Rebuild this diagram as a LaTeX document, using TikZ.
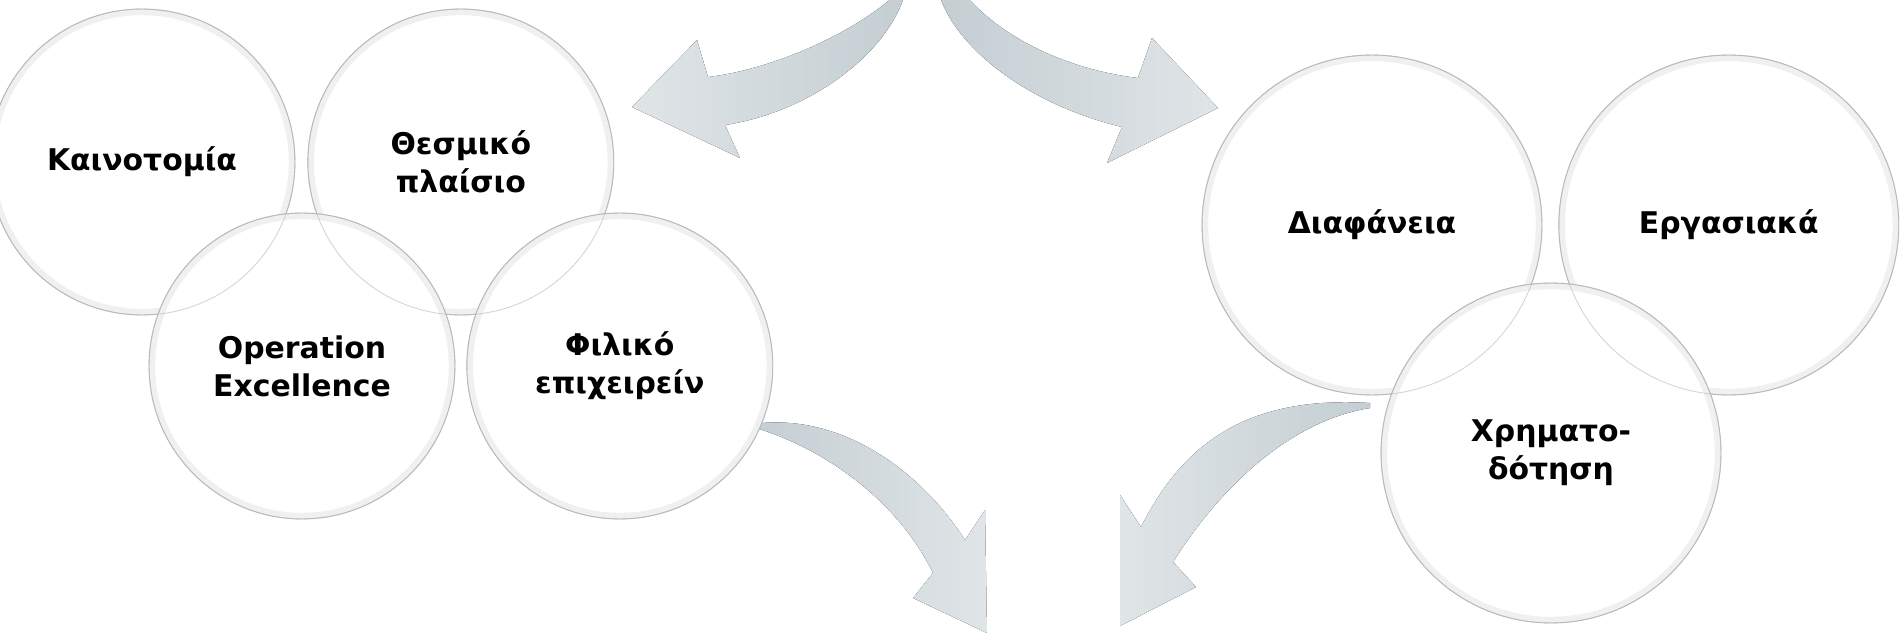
\documentclass[tikz,border=0pt]{standalone}
\usepackage{fontspec}
\setmainfont{DejaVu Sans}
\usepackage{tikz}
\usetikzlibrary{positioning}

\definecolor{swooshdark}{RGB}{196,206,211}
\definecolor{swooshlight}{RGB}{224,229,231}
\definecolor{rimgray}{RGB}{185,185,185}

\begin{document}
\begin{tikzpicture}[x=0.02cm, y=-0.02cm,
        bubble/.style={circle, draw=rimgray, line width=0.5pt, fill=white, minimum size=#1, inner sep=0pt, align=center, font=\fontsize{17}{21.6}\selectfont\bfseries,
            path picture={\draw[black!6, line width=7pt] (path picture bounding box.center) circle[radius=#1/2];}},
        leftbub/.style={bubble=6.12cm},
        rightbub/.style={bubble=6.8cm},
        swooshL/.style={left color=swooshlight, right color=swooshdark},
        swooshR/.style={left color=swooshdark, right color=swooshlight}]

    \useasboundingbox (0,0) rectangle (1901,635);
    \clip (0,0) rectangle (1901,635);

    % curved arrows, behind the bubbles
    \fill[swooshL] (632,107) -- (697,40) -- (708,77) .. controls (770,70) and (850,35) .. (893,-3) -- (904,-3) .. controls (885,55) and (810,112) .. (725,125) -- (740,158) -- cycle;
    \fill[swooshR] (1218,108) -- (1152,38) -- (1138,78) .. controls (1070,70) and (1005,40) .. (967,-3) -- (940,-3) .. controls (958,50) and (1030,105) .. (1122,127) -- (1107,163) -- cycle;
    \fill[swooshR] (753,424) .. controls (840,412) and (920,470) .. (965,540) -- (985,510) -- (987,633) -- (913,598) -- (933,573) .. controls (900,505) and (830,450) .. (753,427) -- cycle;
    \fill[swooshL] (1120,626) -- (1120,495) -- (1141,527) .. controls (1180,450) and (1240,395) .. (1370,403) -- (1370,408) .. controls (1295,420) and (1225,480) .. (1173,562) -- (1196,587) -- cycle;

    % left group
    \node (kaino) [leftbub] at (142,162) {Καινοτομία};
    \node (thesm) [leftbub, right=0.24cm of kaino] {Θεσμικό\\πλαίσιο};
    \node (oper) [leftbub] at (302,366) {Operation\\Excellence};
    \node (filiko) [leftbub, right=0.22cm of oper] {Φιλικό\\επιχειρείν};

    % right group
    \node (diaf) [rightbub] at (1372,225) {Διαφάνεια};
    \node (ergas) [rightbub, right=0.32cm of diaf] {Εργασιακά};
    \node (xrima) [rightbub] at (1551,453) {Χρηματο-\\δότηση};

    % rims seen through the overlaps
    \foreach \n in {kaino,thesm,oper,filiko}
        \draw[rimgray, draw opacity=0.6, line width=0.5pt] (\n.center) circle[radius=3.06cm];
    \foreach \n in {diaf,ergas,xrima}
        \draw[rimgray, draw opacity=0.6, line width=0.5pt] (\n.center) circle[radius=3.4cm];
\end{tikzpicture}
\end{document}
